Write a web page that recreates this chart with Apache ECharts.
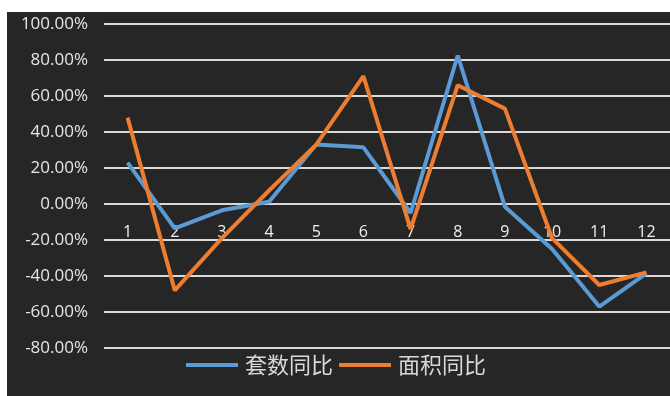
<!DOCTYPE html>
<html>
<head>
<meta charset="utf-8">
<script src="https://cdn.jsdelivr.net/npm/echarts@6/dist/echarts.min.js"></script>
<style>
  html, body { margin: 0; padding: 0; background: #ffffff; }
  #chart { width: 670px; height: 396px; }
</style>
</head>
<body>
<div id="chart"></div>
<script>
// Month categories along the zero line
const months = ['1', '2', '3', '4', '5', '6', '7', '8', '9', '10', '11', '12'];
// Year-on-year change, percent
const unitsYoY = [23, -13.5, -3.5, 1.3, 33, 31.5, -5, 82.5, -1.5, -25, -57, -38.5];
const areaYoY = [48, -48, -19, 7.5, 33, 71, -14, 66, 53, -19, -45, -38];
const seriesNames = ['套数同比', '面积同比'];
// Value axis range
const yMin = -80, yMax = 100, yStep = 20;

const gridTop = 24, gridBottom = 48, chartHeight = 396;
// Distance from the bottom of the plot up to the zero line
const zeroOffset = (chartHeight - gridTop - gridBottom) * (0 - yMin) / (yMax - yMin);

const chart = echarts.init(document.getElementById('chart'), null, { renderer: 'canvas' });

chart.setOption({
  backgroundColor: '#ffffff',
  animation: false,
  graphic: [{
    type: 'rect',
    z: -10,
    silent: true,
    shape: { x: 7, y: 12, width: 670, height: 400 },
    style: { fill: '#262626' }
  }],
  grid: { left: 104, right: 0, top: gridTop, bottom: gridBottom, containLabel: false },
  legend: {
    data: seriesNames,
    left: 186,
    top: 354,
    itemGap: 6,
    itemWidth: 52,
    itemHeight: 4,
    icon: 'rect',
    padding: 0,
    textStyle: { color: '#d9d9d9', fontSize: 22, fontFamily: 'Noto Sans CJK SC', padding: [0, 0, 0, 2] }
  },
  xAxis: {
    type: 'category',
    data: months,
    boundaryGap: true,
    position: 'bottom',
    offset: -zeroOffset,
    axisLine: { show: false, onZero: false },
    axisTick: { show: false },
    axisLabel: { color: '#f0f0f0', fontSize: 16, fontFamily: 'Open Sans', margin: 20 }
  },
  yAxis: {
    type: 'value',
    min: yMin,
    max: yMax,
    interval: yStep,
    axisLine: { show: false },
    axisTick: { show: false },
    axisLabel: {
      color: '#e6e6e6',
      fontSize: 17,
      fontFamily: 'Open Sans',
      margin: 16,
      formatter: v => v.toFixed(2) + '%'
    },
    splitLine: { lineStyle: { color: '#d9d9d9', width: 2 } }
  },
  series: [
    {
      name: seriesNames[0],
      type: 'line',
      data: unitsYoY,
      symbol: 'none',
      color: '#5b9bd5',
      lineStyle: { width: 4, color: '#5b9bd5' }
    },
    {
      name: seriesNames[1],
      type: 'line',
      data: areaYoY,
      symbol: 'none',
      color: '#ed7d31',
      lineStyle: { width: 4, color: '#ed7d31' }
    }
  ]
});
</script>
</body>
</html>
